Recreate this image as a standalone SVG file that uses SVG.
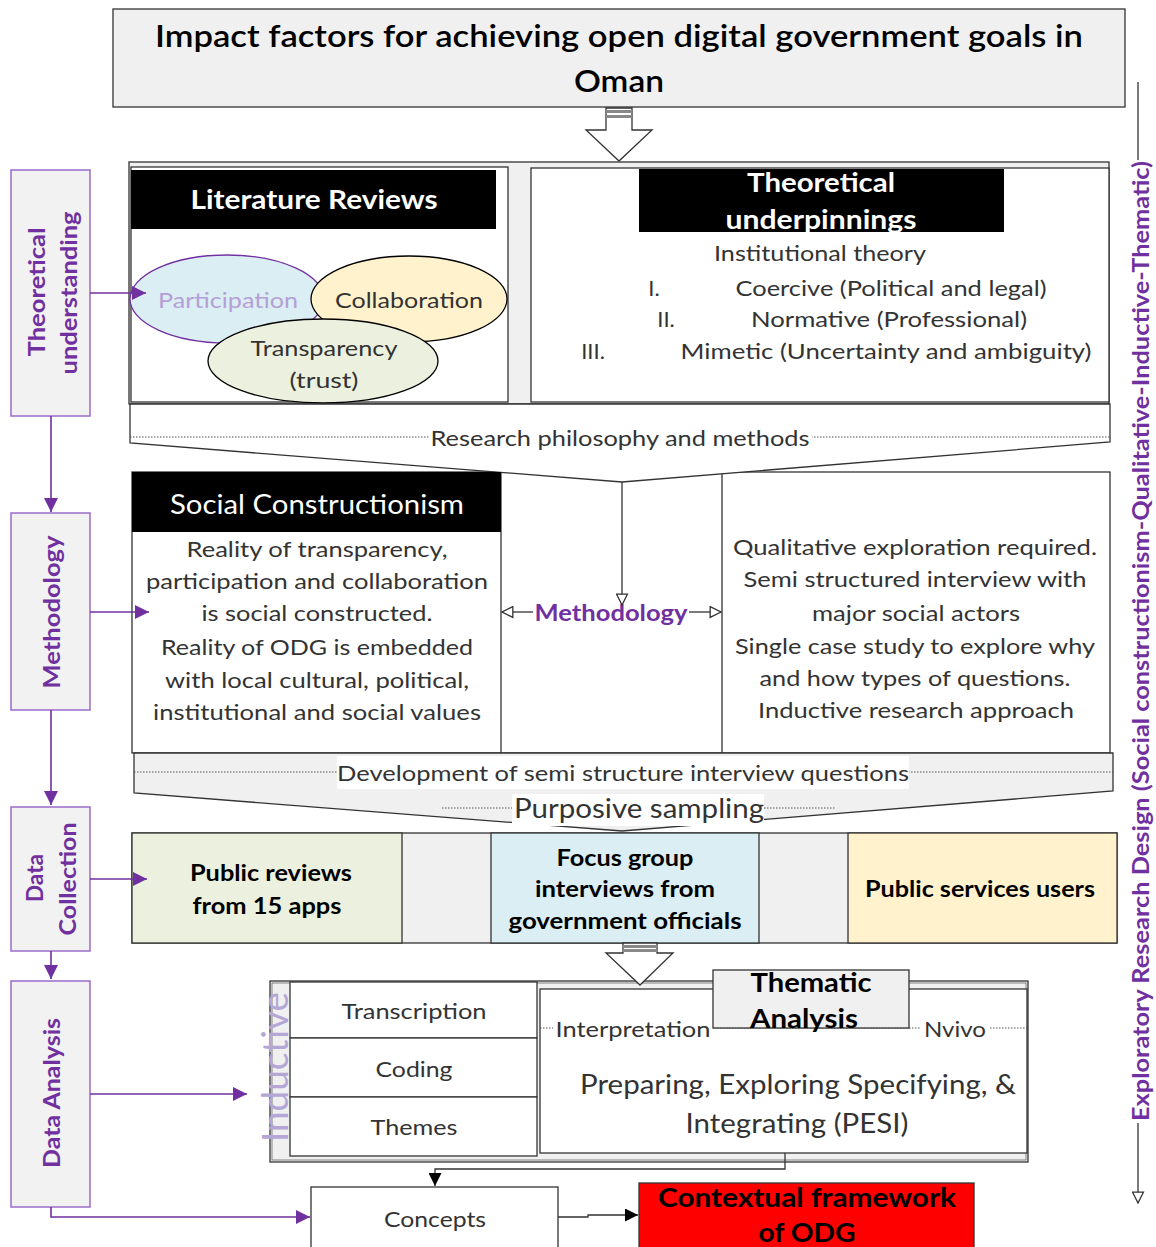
<svg xmlns="http://www.w3.org/2000/svg" width="1156" height="1247" viewBox="0 0 1156 1247">
<style>
text{font-family:Lato,"Open Sans","Liberation Sans",sans-serif;text-anchor:middle;dominant-baseline:central;fill:#333}
.b{font-weight:bold}
.w{fill:#fff}
.k{fill:#000}
.p{fill:#7030a0;font-weight:bold}
.box{stroke:#333;stroke-width:1.3}
.lbl{fill:#f2f2f2;stroke:#9b6bcc;stroke-width:1.5}
.pl{stroke:#7030a0;stroke-width:1.6;fill:none}
.dot{stroke:#555;stroke-width:1;stroke-dasharray:1.5 1.5;fill:none}
.ln{stroke:#333;stroke-width:1.3;fill:none}
</style>
<defs>
<marker id="pa" viewBox="0 0 10 10" refX="10" refY="5" markerWidth="14" markerHeight="14" markerUnits="userSpaceOnUse" orient="auto"><path d="M0,0 L10,5 L0,10 z" fill="#7030a0"/></marker>
<marker id="ka" viewBox="0 0 10 10" refX="10" refY="5" markerWidth="13" markerHeight="13" markerUnits="userSpaceOnUse" orient="auto"><path d="M0,0 L10,5 L0,10 z" fill="#000"/></marker>
<marker id="oa" viewBox="0 0 12 12" refX="11" refY="6" markerWidth="13" markerHeight="13" markerUnits="userSpaceOnUse" orient="auto"><path d="M1,1 L11,6 L1,11 z" fill="#fff" stroke="#333" stroke-width="1.2"/></marker>
</defs>

<g id="title">
<rect x="113" y="9" width="1012" height="98" fill="#f0f0f0" class="box"/>
<text x="619" y="35" font-size="31" class="k" font-weight="600" textLength="928" lengthAdjust="spacingAndGlyphs">Impact factors for achieving open digital government goals in</text>
<text x="619" y="80" font-size="31" class="k" font-weight="600" textLength="90" lengthAdjust="spacingAndGlyphs">Oman</text>
</g>

<g id="arrow-top">
<path d="M606,108 H632 V130 H652 L619,161 L586,130 H606 Z" fill="#fff" stroke="#333" stroke-width="1.3"/>
<rect x="606" y="110" width="26" height="3" fill="#888"/>
<rect x="606" y="115" width="26" height="3" fill="#888"/>
</g>

<g id="section-theory">
<rect x="129" y="162" width="980" height="242" fill="#f0f0f0" class="box"/>
<rect x="131" y="167" width="377" height="235" fill="#fff" class="box"/>
<rect x="531" y="168" width="578" height="234" fill="#fff" class="box"/>
</g>

<g id="literature-reviews">
<rect x="131" y="170" width="365" height="59" fill="#000"/>
<text x="314" y="199" font-size="26" class="b w" textLength="247" lengthAdjust="spacingAndGlyphs">Literature Reviews</text>
</g>

<g id="participation">
<ellipse cx="227" cy="299" rx="97" ry="44" fill="#dbeef4" stroke="#7030a0" stroke-width="1.3"/>
<text x="228" y="299" font-size="22" style="fill:#b4a0d6" textLength="140" lengthAdjust="spacingAndGlyphs">Participation</text>
</g>
<g id="collaboration">
<ellipse cx="409" cy="299" rx="98" ry="43" fill="#fff2cc" stroke="#000" stroke-width="1.3"/>
<text x="409" y="299" font-size="22" textLength="148" lengthAdjust="spacingAndGlyphs">Collaboration</text>
</g>
<g id="transparency">
<ellipse cx="323" cy="361" rx="115" ry="42" fill="#ebf1de" stroke="#000" stroke-width="1.3"/>
<text x="324" y="347" font-size="22" textLength="147" lengthAdjust="spacingAndGlyphs">Transparency</text>
<text x="324" y="379" font-size="22" textLength="69" lengthAdjust="spacingAndGlyphs">(trust)</text>
</g>

<g id="theoretical-underpinnings">
<rect x="639" y="169" width="365" height="63" fill="#000"/>
<text x="821" y="182" font-size="26" class="b w" textLength="148" lengthAdjust="spacingAndGlyphs">Theoretical</text>
<text x="821" y="219" font-size="26" class="b w" textLength="191" lengthAdjust="spacingAndGlyphs">underpinnings</text>
<text x="820" y="252" font-size="22" textLength="212" lengthAdjust="spacingAndGlyphs">Institutional theory</text>
<text x="654" y="287" font-size="22">I.</text>
<text x="891" y="287" font-size="22" textLength="311" lengthAdjust="spacingAndGlyphs">Coercive (Political and legal)</text>
<text x="666" y="318" font-size="22">II.</text>
<text x="889" y="318" font-size="22" textLength="276" lengthAdjust="spacingAndGlyphs">Normative (Professional)</text>
<text x="593" y="350" font-size="22">III.</text>
<text x="886" y="350" font-size="22" textLength="411" lengthAdjust="spacingAndGlyphs">Mimetic (Uncertainty and ambiguity)</text>
</g>

<g id="method-area">
<rect x="132" y="472" width="978" height="281" fill="#fff" class="box"/>
<line x1="501" y1="472" x2="501" y2="753" class="ln"/>
<line x1="722" y1="472" x2="722" y2="753" class="ln"/>
</g>

<g id="research-philosophy">
<path d="M130,404 H1110 V442 L622,482 L130,443 Z" fill="#fff" stroke="#333" stroke-width="1.3"/>
<line x1="130" y1="437" x2="1110" y2="437" class="dot"/>
<rect x="429" y="424" width="383" height="26" fill="#fff"/>
<text x="620" y="437" font-size="22" textLength="379" lengthAdjust="spacingAndGlyphs">Research philosophy and methods</text>
</g>

<g id="social-constructionism">
<rect x="132" y="472" width="369" height="60" fill="#000"/>
<text x="317" y="503" font-size="27" class="w" textLength="294" lengthAdjust="spacingAndGlyphs">Social Constructionism</text>
<text x="317" y="548" font-size="22" textLength="261" lengthAdjust="spacingAndGlyphs">Reality of transparency,</text>
<text x="317" y="580" font-size="22" textLength="342" lengthAdjust="spacingAndGlyphs">participation and collaboration</text>
<text x="317" y="612" font-size="22" textLength="231" lengthAdjust="spacingAndGlyphs">is social constructed.</text>
<text x="317" y="646" font-size="22" textLength="312" lengthAdjust="spacingAndGlyphs">Reality of ODG is embedded</text>
<text x="317" y="679" font-size="22" textLength="304" lengthAdjust="spacingAndGlyphs">with local cultural, political,</text>
<text x="317" y="711" font-size="22" textLength="328" lengthAdjust="spacingAndGlyphs">institutional and social values</text>
</g>

<g id="qualitative">
<text x="915" y="546" font-size="22" textLength="364" lengthAdjust="spacingAndGlyphs">Qualitative exploration required.</text>
<text x="915" y="578" font-size="22" textLength="343" lengthAdjust="spacingAndGlyphs">Semi structured interview with</text>
<text x="916" y="612" font-size="22" textLength="208" lengthAdjust="spacingAndGlyphs">major social actors</text>
<text x="915" y="645" font-size="22" textLength="360" lengthAdjust="spacingAndGlyphs">Single case study to explore why</text>
<text x="915" y="677" font-size="22" textLength="311" lengthAdjust="spacingAndGlyphs">and how types of questions.</text>
<text x="916" y="709" font-size="22" textLength="316" lengthAdjust="spacingAndGlyphs">Inductive research approach</text>
</g>

<g id="methodology-center">
<text x="611" y="612" font-size="23" class="p" textLength="153" lengthAdjust="spacingAndGlyphs">Methodology</text>
</g>

<g id="development">
<path d="M134,753 H1113 V791 L622,831 L134,793 Z" fill="#f0f0f0" stroke="#333" stroke-width="1.3"/>
<line x1="134" y1="772" x2="1113" y2="772" class="dot"/>
<rect x="337" y="756" width="572" height="33" fill="#fff"/>
<text x="623" y="772" font-size="22" textLength="572" lengthAdjust="spacingAndGlyphs">Development of semi structure interview questions</text>
<rect x="512" y="794" width="252" height="32" fill="#fff"/>
<line x1="442" y1="808" x2="512" y2="808" class="dot"/>
<line x1="764" y1="808" x2="835" y2="808" class="dot"/>
<text x="639" y="808" font-size="26" textLength="250" lengthAdjust="spacingAndGlyphs">Purposive sampling</text>
</g>

<g id="data-row">
<rect x="132" y="833" width="985" height="110" fill="#f0f0f0" class="box"/>
</g>
<g id="public-reviews">
<rect x="132" y="833" width="270" height="110" fill="#ebf1de" class="box"/>
<text x="271" y="872" font-size="22" class="b k" textLength="162" lengthAdjust="spacingAndGlyphs">Public reviews</text>
<text x="267" y="905" font-size="22" class="b k" textLength="149" lengthAdjust="spacingAndGlyphs">from 15 apps</text>
</g>
<g id="focus-group">
<rect x="491" y="833" width="268" height="110" fill="#daeef3" class="box"/>
<text x="625" y="857" font-size="22" class="b k" textLength="137" lengthAdjust="spacingAndGlyphs">Focus group</text>
<text x="625" y="888" font-size="22" class="b k" textLength="180" lengthAdjust="spacingAndGlyphs">interviews from</text>
<text x="625" y="920" font-size="22" class="b k" textLength="233" lengthAdjust="spacingAndGlyphs">government officials</text>
</g>
<g id="public-services">
<rect x="848" y="833" width="269" height="110" fill="#fff2cc" class="box"/>
<text x="980" y="888" font-size="22" class="b k" textLength="230" lengthAdjust="spacingAndGlyphs">Public services users</text>
</g>

<g id="analysis-area">
<rect x="270" y="981" width="758" height="181" fill="#f0f0f0" class="box"/>
<rect x="272" y="983" width="754" height="177" fill="none" stroke="#666" stroke-width="0.8"/>
</g>
<g id="inductive-steps">
<rect x="290" y="982" width="247" height="56" fill="#fff" class="box"/>
<rect x="290" y="1038" width="247" height="59" fill="#fff" class="box"/>
<rect x="290" y="1097" width="247" height="59" fill="#fff" class="box"/>
<text x="414" y="1010" font-size="22" textLength="145" lengthAdjust="spacingAndGlyphs">Transcription</text>
<text x="414" y="1068" font-size="22" textLength="77" lengthAdjust="spacingAndGlyphs">Coding</text>
<text x="414" y="1126" font-size="22" textLength="87" lengthAdjust="spacingAndGlyphs">Themes</text>
<text transform="translate(274,1067) rotate(-90)" font-size="36" style="fill:#b4a7d6" textLength="150" lengthAdjust="spacingAndGlyphs">Inductive</text>
</g>
<g id="thematic-analysis">
<rect x="540" y="989" width="487" height="164" fill="#fff" class="box"/>
<line x1="540" y1="1028" x2="1027" y2="1028" class="dot"/>
<rect x="553" y="1016" width="160" height="24" fill="#fff"/>
<text x="633" y="1028" font-size="22" textLength="155" lengthAdjust="spacingAndGlyphs">Interpretation</text>
<rect x="921" y="1016" width="68" height="24" fill="#fff"/>
<text x="955" y="1028" font-size="22" textLength="62" lengthAdjust="spacingAndGlyphs">Nvivo</text>
<rect x="713" y="970" width="196" height="58" fill="#f0f0f0" class="box"/>
<text x="811" y="982" font-size="26" class="b k" textLength="121" lengthAdjust="spacingAndGlyphs">Thematic</text>
<text x="804" y="1018" font-size="26" class="b k" textLength="108" lengthAdjust="spacingAndGlyphs">Analysis</text>
<text x="798" y="1083" font-size="27" textLength="436" lengthAdjust="spacingAndGlyphs">Preparing, Exploring Specifying, &amp;</text>
<text x="797" y="1122" font-size="27" textLength="223" lengthAdjust="spacingAndGlyphs">Integrating (PESI)</text>
</g>

<g id="arrow-mid">
<path d="M623,943 H657 V953 H673 L640,985 L606,953 H623 Z" fill="#fff" stroke="#333" stroke-width="1.3"/>
<rect x="623" y="945" width="34" height="3" fill="#888"/>
<rect x="623" y="949" width="34" height="3" fill="#888"/>
</g>

<g id="concepts">
<rect x="311" y="1187" width="247" height="65" fill="#fff" class="box"/>
<text x="435" y="1218" font-size="22" textLength="102" lengthAdjust="spacingAndGlyphs">Concepts</text>
</g>
<g id="contextual-framework">
<rect x="639" y="1183" width="335" height="70" fill="#ff0000" stroke="#333" stroke-width="1.3"/>
<text x="807" y="1196" font-size="27" class="b k" textLength="298" lengthAdjust="spacingAndGlyphs">Contextual framework</text>
<text x="807" y="1231" font-size="27" class="b k" textLength="97" lengthAdjust="spacingAndGlyphs">of ODG</text>
</g>

<g id="label-theoretical">
<rect x="11" y="170" width="79" height="246" class="lbl"/>
<text transform="translate(36,292) rotate(-90)" font-size="22" class="p" textLength="129" lengthAdjust="spacingAndGlyphs">Theoretical</text>
<text transform="translate(68,293) rotate(-90)" font-size="22" class="p" textLength="163" lengthAdjust="spacingAndGlyphs">understanding</text>
</g>
<g id="label-methodology">
<rect x="11" y="513" width="79" height="197" class="lbl"/>
<text transform="translate(51,612) rotate(-90)" font-size="22" class="p" textLength="153" lengthAdjust="spacingAndGlyphs">Methodology</text>
</g>
<g id="label-data-collection">
<rect x="11" y="807" width="79" height="144" class="lbl"/>
<text transform="translate(34,878) rotate(-90)" font-size="22" class="p" textLength="48" lengthAdjust="spacingAndGlyphs">Data</text>
<text transform="translate(67,879) rotate(-90)" font-size="22" class="p" textLength="113" lengthAdjust="spacingAndGlyphs">Collection</text>
</g>
<g id="label-data-analysis">
<rect x="11" y="981" width="79" height="226" class="lbl"/>
<text transform="translate(51,1093) rotate(-90)" font-size="22" class="p" textLength="150" lengthAdjust="spacingAndGlyphs">Data Analysis</text>
</g>

<g id="research-design">
<text transform="translate(1140,641) rotate(-90)" font-size="22" class="p" textLength="960" lengthAdjust="spacingAndGlyphs">Exploratory Research Design (Social constructionism-Qualitative-Inductive-Thematic)</text>
</g>

<g id="connectors">
<path d="M90,293 H146" class="pl" marker-end="url(#pa)"/>
<path d="M51,416 V512" class="pl" marker-end="url(#pa)"/>
<path d="M90,612 H149" class="pl" marker-end="url(#pa)"/>
<path d="M51,710 V805" class="pl" marker-end="url(#pa)"/>
<path d="M90,879 H147" class="pl" marker-end="url(#pa)"/>
<path d="M51,951 V979" class="pl" marker-end="url(#pa)"/>
<path d="M90,1094 H247" class="pl" marker-end="url(#pa)"/>
<path d="M51,1207 V1217 H310" class="pl" marker-end="url(#pa)"/>
<path d="M622,482 V605" class="ln" marker-end="url(#oa)"/>
<path d="M533,612 H502" class="ln" marker-end="url(#oa)"/>
<path d="M689,612 H721" class="ln" marker-end="url(#oa)"/>
<path d="M785,1153 V1169 H435 V1186" class="ln" marker-end="url(#ka)"/>
<path d="M558,1217 H588 V1215 H638" class="ln" marker-end="url(#ka)"/>
<path d="M1138,82 V160" class="ln"/>
<path d="M1138,1123 V1203" class="ln" marker-end="url(#oa)"/>
</g>
</svg>
